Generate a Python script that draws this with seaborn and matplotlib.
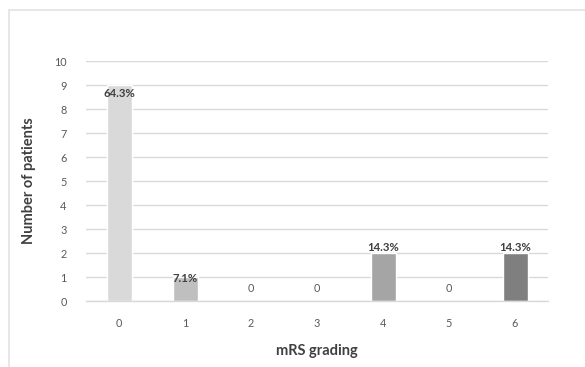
import matplotlib
matplotlib.use("Agg")
import matplotlib.pyplot as plt
import seaborn as sns
import pandas as pd
from matplotlib.patches import Rectangle

categories = ["0", "1", "2", "3", "4", "5", "6"]
patients = [9, 1, 0, 0, 2, 0, 2]
labels = ["64.3%", "7.1%", "0", "0", "14.3%", "0", "14.3%"]
bar_colors = ["#d9d9d9", "#bfbfbf", "#b2b2b2", "#a9a9a9", "#a5a5a5", "#939393", "#7f7f7f"]

sns.set_theme(style="white")
plt.rcParams['font.family'] = ['Lato', 'DejaVu Sans']

df = pd.DataFrame({"mRS": categories, "n": patients})

W, H = 585, 367
fig = plt.figure(figsize=(W / 100, H / 100), dpi=100)
ax = fig.add_axes([86 / W, 1 - 301 / H, (548 - 86) / W, (301 - 61) / H])

sns.barplot(data=df, x="mRS", y="n", hue="mRS", palette=bar_colors,
            width=25 / 66, legend=False, ax=ax, saturation=1)

ax.set_ylim(0, 10)
ax.set_xlim(-0.5, 6.5)
ax.set_yticks(range(0, 11))
ax.yaxis.grid(True, color="#d9d9d9", linewidth=1)
ax.set_axisbelow(True)
for s in ["top", "right", "left"]:
    ax.spines[s].set_visible(False)
ax.spines["bottom"].set_color("#d9d9d9")
ax.spines["bottom"].set_linewidth(1)
ax.tick_params(axis="both", length=0, labelsize=7.8, colors="#595959")
ax.tick_params(axis="x", pad=12)
ax.tick_params(axis="y", pad=14)

ax.set_xlabel("mRS grading", fontsize=10.5, fontweight="bold", color="#404040", labelpad=11)
ax.set_ylabel("Number of patients", fontsize=10.5, fontweight="bold", color="#404040", labelpad=13)

# data labels
for i, (v, lab) in enumerate(zip(patients, labels)):
    if v == 0:
        ax.annotate(lab, (i, v), xytext=(0, 9), textcoords="offset points",
                    ha="center", va="center", fontsize=7.8, color="#595959")
    elif v >= 9:
        ax.annotate(lab, (i, v), xytext=(0, -6), textcoords="offset points",
                    ha="center", va="center", fontsize=8.2, fontweight="bold", color="#404040")
    elif v == 1:
        ax.annotate(lab, (i, v), xytext=(0, -1), textcoords="offset points",
                    ha="center", va="center", fontsize=8.2, fontweight="bold", color="#404040")
    else:
        ax.annotate(lab, (i, v), xytext=(0, 4), textcoords="offset points",
                    ha="center", va="center", fontsize=8.2, fontweight="bold", color="#404040")

# chart border
fig.patches.append(Rectangle((8.5 / W, -0.1), 1.2, 1.1 - 10.5 / H, transform=fig.transFigure,
                             fill=False, edgecolor="#e3e3e3", linewidth=1.2, figure=fig))

fig.savefig("out.png", dpi=100)
